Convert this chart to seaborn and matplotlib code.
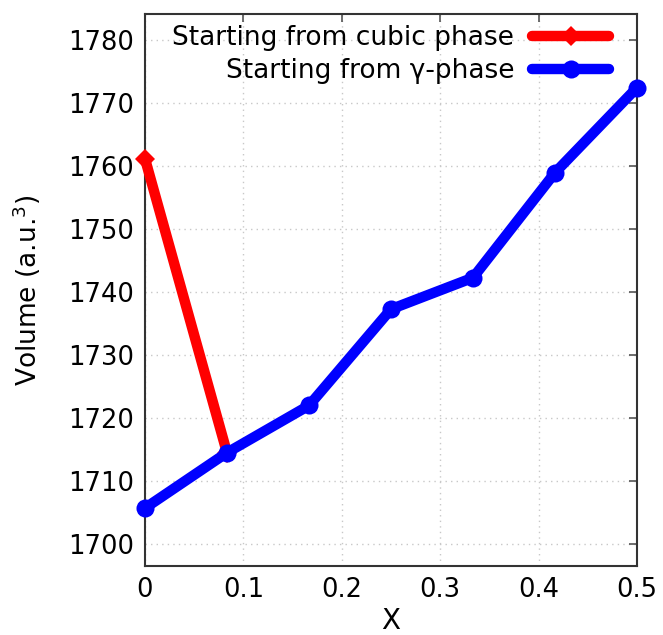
import matplotlib
matplotlib.use("Agg")
import matplotlib.pyplot as plt
import seaborn as sns
import pandas as pd

x_cubic = [0.0, 0.0833]
v_cubic = [1761.2, 1714.5]
x_gamma = [0.0, 0.0833, 0.1667, 0.25, 0.3333, 0.4167, 0.5]
v_gamma = [1705.7, 1714.5, 1722.0, 1737.3, 1742.3, 1759.0, 1772.5]
labels = ["Starting from cubic phase", "Starting from \u03b3-phase"]

sns.set_theme(style="white")
plt.rcParams['font.family'] = ['DejaVu Sans']
plt.rcParams['text.color'] = 'black'
plt.rcParams['axes.labelcolor'] = 'black'

fig = plt.figure(figsize=(6.63, 6.35), dpi=100)
ax = fig.add_axes([145/663, 1 - 566/635, (637-145)/663, (566-14)/635])

df1 = pd.DataFrame({"x": x_cubic, "v": v_cubic})
df2 = pd.DataFrame({"x": x_gamma, "v": v_gamma})
sns.lineplot(data=df1, x="x", y="v", ax=ax, color="#ff0000", lw=7.5, marker="D",
             markersize=10, markeredgewidth=0, label=labels[0], zorder=3,
             solid_capstyle="round", clip_on=False)
sns.lineplot(data=df2, x="x", y="v", ax=ax, color="#0000ff", lw=7.5, marker="o",
             markersize=13, markeredgewidth=0, label=labels[1], zorder=4,
             solid_capstyle="round", clip_on=False)

ax.set_xlim(0, 0.5)
ax.set_ylim(1696.5, 1784.2)
ax.set_xticks([0, 0.1, 0.2, 0.3, 0.4, 0.5])
ax.set_xticklabels(["0", "0.1", "0.2", "0.3", "0.4", "0.5"])
ax.set_yticks(range(1700, 1781, 10))
ax.grid(True, color="#c8c8c8", linestyle=(0, (1, 3)), linewidth=1)
ax.tick_params(direction="in", length=6, width=1.2, top=True, right=True,
               labelsize=18.5, colors="#555555", labelcolor="black", pad=8)
for s in ax.spines.values():
    s.set_color("#333333")
    s.set_linewidth(1.5)
ax.set_xlabel("X", fontsize=20, labelpad=3)
ax.set_ylabel("Volume (a.u.$^3$)", fontsize=19, labelpad=18)

leg = ax.legend(loc="upper right", frameon=False, markerfirst=False, fontsize=19,
                handlelength=2.9, borderaxespad=0.0, borderpad=0.0,
                labelspacing=0.28, handletextpad=0.7,
                bbox_to_anchor=((611 - 145 - 2) / 492, 1 - (25 - 14) / 552))
for t in leg.get_texts():
    t.set_color("black")
for h in leg.legend_handles:
    h.set_solid_capstyle("round")

fig.savefig("out.png", dpi=100)
